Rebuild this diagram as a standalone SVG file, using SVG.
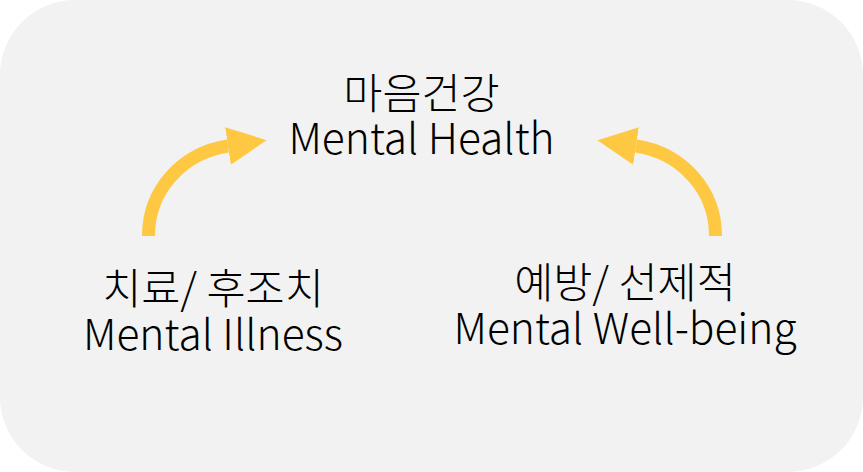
<svg xmlns="http://www.w3.org/2000/svg" width="863" height="472" viewBox="0 0 863 472">
<style>
.lbl{font-family:"Noto Sans CJK KR","Noto Sans",sans-serif;font-size:42.5px;font-weight:300;fill:#000;text-anchor:middle}
.arr{fill:none;stroke:#FFC843;stroke-width:13}
</style>
<defs>
<marker id="ah" markerUnits="userSpaceOnUse" markerWidth="40" markerHeight="40" viewBox="0 -20 40 40" refX="0" refY="0" orient="auto">
<path d="M0,-19 L39,0 L0,19 z" fill="#FFC843"/>
</marker>
</defs>
<rect x="0" y="0" width="863" height="472" rx="75" ry="75" fill="#F2F2F2"/>
<g id="connectors">
<path class="arr" d="M148.5,236 C148.5,190 182,153 228,146" marker-end="url(#ah)"/>
<path class="arr" d="M715.5,236 C715.5,190 682,153 636,146" marker-end="url(#ah)"/>
</g>
<g id="mental-health">
<text class="lbl" x="421.5" y="109">마음건강</text>
<text class="lbl" x="421.5" y="154">Mental Health</text>
</g>
<g id="mental-illness">
<text class="lbl" x="213" y="304">치료/ 후조치</text>
<text class="lbl" x="213" y="350">Mental Illness</text>
</g>
<g id="mental-wellbeing">
<text class="lbl" x="625" y="298">예방/ 선제적</text>
<text class="lbl" x="625" y="344">Mental Well-being</text>
</g>
</svg>
